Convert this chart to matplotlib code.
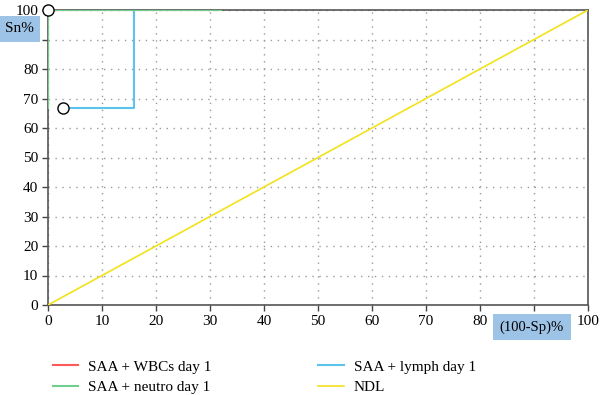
import matplotlib
matplotlib.use("Agg")
import matplotlib.pyplot as plt

# Data
wbc_x = [0, 0, 32]
wbc_y = [66.7, 100, 100]
neutro_x = [0, 0, 32]
neutro_y = [66.7, 100, 100]
lymph_x = [2.7, 16, 16]
lymph_y = [66.7, 66.7, 100]
ndl_x = [0, 100]
ndl_y = [0, 100]
marker_x = [0, 2.7]
marker_y = [100, 66.7]
ticks = [0, 10, 20, 30, 40, 50, 60, 70, 80, 90, 100]
# the 90 labels are hidden behind the axis-title boxes in the reference
tick_labels = ['0', '10', '20', '30', '40', '50', '60', '70', '80', '', '100']

plt.rcParams['font.family'] = ['Liberation Serif', 'DejaVu Serif']

fig = plt.figure(figsize=(6.0, 3.95), dpi=100)
ax = fig.add_axes([48/600, 1 - 305/395, 540/600, 295/395])

ax.plot(ndl_x, ndl_y, color='#f2e21a', lw=1.2, label='NDL', zorder=3)
ax.plot(wbc_x, wbc_y, color='#ff5a5a', lw=1.5, label='SAA + WBCs day 1', zorder=3)
ax.plot(lymph_x, lymph_y, color='#5bc3ec', lw=1.5, label='SAA + lymph day 1', zorder=3)
ax.plot(neutro_x, neutro_y, color='#6fd08c', lw=1.5, label='SAA + neutro day 1', zorder=4)
ax.plot(marker_x, marker_y, linestyle='none', marker='o', ms=8, mfc='white',
        mec='black', mew=1.0, zorder=6, clip_on=False)

ax.set_xlim(0, 100)
ax.set_ylim(0, 100)
ax.set_xticks(ticks)
ax.set_yticks(ticks)
ax.set_xticklabels(tick_labels)
ax.set_yticklabels(tick_labels)
ax.tick_params(direction='out', length=4, width=1, color='#444444',
               labelsize=11, pad=3)
ax.grid(True, color='#9a9a9a', linestyle=(0, (1, 4)), lw=1.0)
for s in ax.spines.values():
    s.set_color('#555555')
    s.set_linewidth(1.2)

box = dict(boxstyle='square,pad=0.45', fc='#9dc3e6', ec='none')
fig.text(19/600, 1 - 29/395, 'Sn%', fontsize=11, ha='center', va='center', bbox=box)
fig.text(532/600, 1 - 327/395, '(100-Sp)%', fontsize=10.5, ha='center', va='center', bbox=box)

h, l = ax.get_legend_handles_labels()
order = [1, 3, 2, 0]
fig.legend([h[i] for i in order], [l[i] for i in order], ncol=2, frameon=False,
           loc='upper left', bbox_to_anchor=(53/600, 1 - 360/395), fontsize=11,
           borderpad=0, borderaxespad=0,
           handlelength=1.65, columnspacing=7.0, labelspacing=0.45, handletextpad=0.65)

fig.savefig('out.png', dpi=100)
